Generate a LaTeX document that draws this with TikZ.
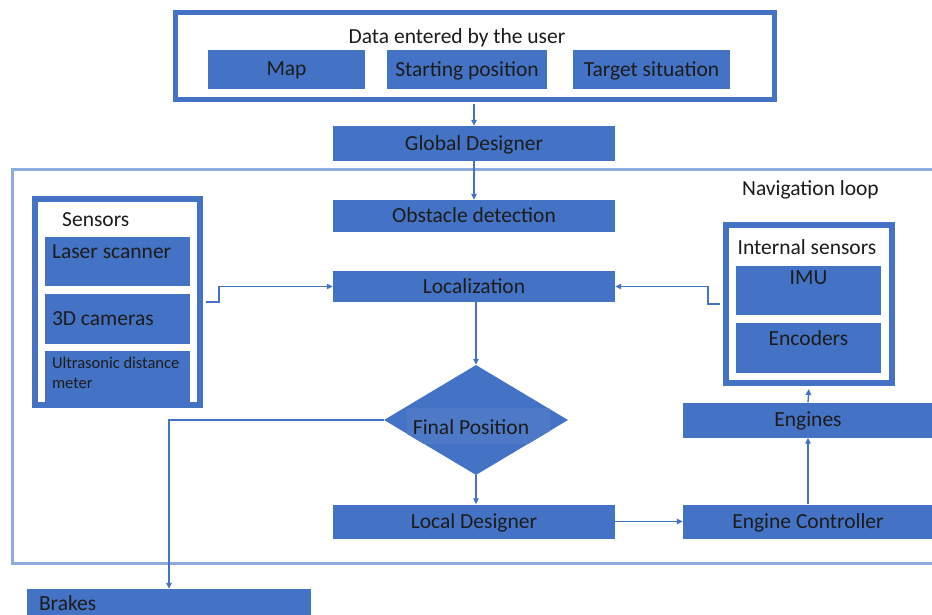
\documentclass[tikz,border=0pt]{standalone}
\usepackage{fontspec}
\setmainfont{Carlito}
\usetikzlibrary{arrows.meta,shapes.geometric}
\definecolor{bl}{HTML}{4472C4}
\definecolor{lb}{HTML}{8FAADC}
\definecolor{tx}{HTML}{1C1C1C}
\begin{document}
\begin{tikzpicture}[x=1pt,y=-1pt,
  blk/.style={fill=bl, draw=none, text=tx, inner sep=0pt, text depth=1pt, font=\fontsize{21.5}{25}\selectfont},
  frame/.style={draw=bl, line width=6pt, fill=white, inner sep=0pt},
  txt/.style={text=tx, inner sep=0pt, font=\fontsize{21.5}{25}\selectfont},
  con/.style={draw=bl, line width=1.3pt, -{Triangle[length=6pt,width=5.5pt]}}]
\useasboundingbox (0,0) rectangle (932,615);
\clip (0,0) rectangle (932,615);
\fill[white] (0,0) rectangle (932,615);

% top input box
\node[frame, line width=5pt, minimum width=599pt, minimum height=87pt] (user) at (475,56) {};
\node[txt] (title) at (457,38) {Data entered by the user};
\node[blk, minimum width=157pt, minimum height=39pt] (map) at (286.5,69.5) {Map};
\node[blk, minimum width=160pt, minimum height=39pt] (start) at (467,69.5) {Starting position};
\node[blk, minimum width=157pt, minimum height=39pt] (target) at (651.5,69.5) {Target situation};

\node[blk, minimum width=282pt, minimum height=35pt] (global) at (474,143.5) {Global Designer};

% navigation loop
\draw[lb, line width=3pt] (12.5,170) rectangle (945,563);
\node[txt, anchor=east] (navl) at (879,190) {Navigation loop};

\node[blk, minimum width=282pt, minimum height=32pt] (obst) at (474,216) {Obstacle detection};
\node[blk, minimum width=282pt, minimum height=31pt] (loc) at (474,286.5) {Localization};

% sensors
\node[frame, minimum width=165pt, minimum height=206pt] (sens) at (117.5,302) {};
\node[txt, anchor=west] (senst) at (62,220) {Sensors};
\node[blk, minimum width=145pt, minimum height=49pt,
  label={[txt, anchor=north west, xshift=7pt, yshift=-8pt]north west:Laser scanner}] (laser) at (117.5,261.5) {};
\node[blk, minimum width=145pt, minimum height=50pt,
  label={[txt, anchor=west, xshift=7pt]west:3D cameras}] (cam) at (117.5,319) {};
\node[blk, minimum width=145pt, minimum height=51pt,
  label={[txt, anchor=north west, xshift=7pt, yshift=-6pt, align=left, font=\fontsize{16.5}{20}\selectfont]north west:Ultrasonic distance\\meter}] (ultra) at (117.5,376.5) {};

% internal sensors
\node[frame, minimum width=166pt, minimum height=158pt] (intern) at (809,304) {};
\node[txt] (internt) at (807,247) {Internal sensors};
\node[blk, minimum width=145pt, minimum height=49pt,
  label={[txt, anchor=north, yshift=-5pt]north:IMU}] (imu) at (808.5,290.5) {};
\node[blk, minimum width=145pt, minimum height=50pt,
  label={[txt, anchor=north, yshift=-8pt]north:Encoders}] (enc) at (808.5,348) {};

% decision
\node[diamond, fill=bl, draw=none, inner sep=0pt, aspect=1.67,
  minimum width=184pt, minimum height=110pt] (fp) at (476,420) {};
\begin{scope}
  \clip (fp.north) -- (fp.east) -- (fp.south) -- (fp.west) -- cycle;
  \fill[bl!95!white] (407,408) rectangle (550,444);
\end{scope}
\node[txt] (fpt) at (471,427) {Final Position};

\node[blk, minimum width=282pt, minimum height=34pt] (local) at (474,521.5) {Local Designer};
\node[blk, minimum width=250pt, minimum height=34pt] (ctrl) at (808,521.5) {Engine Controller};
\node[blk, minimum width=250pt, minimum height=35pt] (eng) at (808,420) {Engines};

\node[blk, minimum width=284pt, minimum height=40pt,
  label={[txt, anchor=north west, xshift=12pt, yshift=-7pt]north west:Brakes}] (brakes) at (169,609) {};

% connectors
\draw[con] (global.north |- user.south) ++(0,2.5) -- (global.north);
\draw[con] (global.south) -- (obst.north);
\draw[con] ([xshift=3pt]sens.east) -- ++(13,0) |- (loc.west);
\draw[con] ([xshift=-3pt]intern.west) -- ++(-12,0) |- (loc.east);
\draw[con] (loc.south -| fp.north) -- (fp.north);
\draw[con] (fp.west) -| (brakes.north);
\draw[con] (fp.south) -- (local.north -| fp.south);
\draw[con] (local.east) -- (ctrl.west);
\draw[con] (ctrl.north) -- (eng.south);
\draw[con, shorten >=3pt] (eng.north) -- (intern.south);
\end{tikzpicture}
\end{document}
